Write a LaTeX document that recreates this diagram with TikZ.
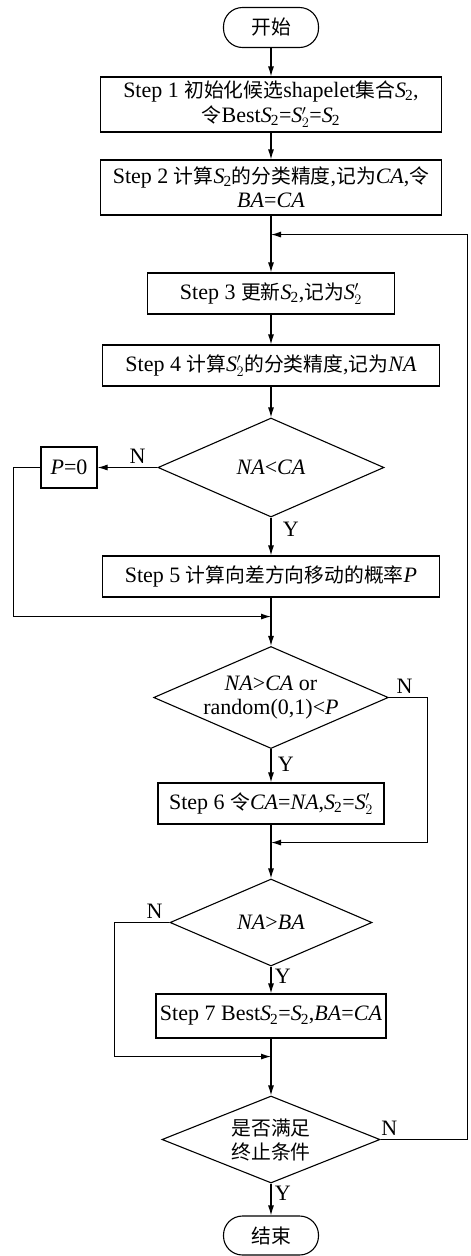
\documentclass[tikz,border=0pt]{standalone}
\usepackage{fontspec}
\setmainfont{Liberation Serif}
\newfontfamily\cjk{Noto Sans CJK SC}[Scale=0.9]
\usetikzlibrary{shapes.geometric, arrows.meta, positioning}
\newcommand{\vS}{\textit{S}\kern-1pt\textsubscript{2}}
\newcommand{\vSp}{\textit{S}\kern-0.5pt${}'_{2}$}
\tikzstyle{startstop} = [rectangle, rounded corners=19pt, minimum width=95pt, minimum height=40pt, text centered, draw=black]
\tikzstyle{process} = [rectangle, minimum height=41pt, inner sep=2pt, text centered, align=center, draw=black]
\tikzstyle{decision} = [diamond, aspect=2.3, inner sep=0pt, text centered, align=center, draw=black]
\tikzstyle{arrow} = [-{Latex[length=10pt,width=6pt]}]

\begin{document}
\begin{tikzpicture}[node distance=100pt, line width=1.1pt, font=\fontsize{22}{24}\selectfont]
\useasboundingbox (0,0) rectangle (471pt,-1256pt);

\node (start) [startstop] at (271pt,-27.5pt) {{\cjk 开始}};
\node (step1) [process, minimum width=341pt, minimum height=55pt, node distance=77pt, below of=start] {Step 1 {\cjk 初始化候选}shapelet{\cjk 集合}\vS,\\[1pt]{\cjk 令}Best\vS=\vSp=\vS};
\node (step2) [process, minimum width=341pt, minimum height=55pt, node distance=83pt, below of=step1] {Step 2 {\cjk 计算}\vS{\cjk 的分类精度},{\cjk 记为}\textit{CA},{\cjk 令}\\\textit{BA}=\textit{CA}};
\node (step3) [process, minimum width=247pt, node distance=106pt, below of=step2] {Step 3 {\cjk 更新}\vS,{\cjk 记为}\vSp};
\node (step4) [process, minimum width=337pt, node distance=72pt, below of=step3] {Step 4 {\cjk 计算}\vSp{\cjk 的分类精度},{\cjk 记为}\textit{NA}};
\node (dec1) [decision, minimum width=226pt, minimum height=99pt, node distance=102pt, below of=step4] {\textit{NA}<\textit{CA}};
\node (pzero) [process, minimum width=56pt, node distance=202pt, left of=dec1] {\textit{P}=0};
\node (step5) [process, minimum width=337pt, node distance=109pt, below of=dec1] {Step 5 {\cjk 计算向差方向移动的概率}\textit{P}};
\node (dec2) [decision, minimum width=226pt, minimum height=99pt, node distance=121pt, below of=step5] {\textit{NA}>\textit{CA} or\\random(0,1)<\textit{P}};
\node (step6) [process, minimum width=226pt, node distance=106pt, below of=dec2] {Step 6 {\cjk 令}\textit{CA}=\textit{NA},\vS=\vSp};
\node (dec3) [decision, minimum width=202pt, minimum height=87pt, node distance=119pt, below of=step6] {\textit{NA}>\textit{BA}};
\node (step7) [process, minimum width=230pt, minimum height=44pt, node distance=93.5pt, below of=dec3] {Step 7 Best\vS=\vS,\textit{BA}=\textit{CA}};
\node (dec4) [decision, minimum width=218pt, minimum height=87pt, node distance=123.5pt, below of=step7] {{\cjk 是否满足}\\{\cjk 终止条件}};
\node (end) [startstop, minimum height=39pt, node distance=96pt, below of=dec4] {{\cjk 结束}};

% join points on the main line
\coordinate (loopin) at ([yshift=-19pt]step2.south);
\coordinate (join5) at ([yshift=-19pt]step5.south);
\coordinate (join6) at ([yshift=-18pt]step6.south);
\coordinate (join7) at ([yshift=-18pt]step7.south);

\draw [arrow] (start) -- (step1);
\draw [arrow] (step1) -- (step2);
\draw [arrow] (step2) -- (step3);
\draw [arrow] (step3) -- (step4);
\draw [arrow] (step4) -- (dec1);
\draw [arrow] (dec1) -- node[right, pos=0.3, xshift=8pt] {Y} (step5);
\draw [arrow] (dec1.west) -- node[above, pos=0.33] {N} (pzero.east);
\draw [arrow] (pzero.west) -- ++(-27pt,0) |- (join5);
\draw [arrow] (step5) -- (dec2);
\draw [arrow] (dec2) -- node[right, pos=0.45, xshift=3pt] {Y} (step6);
\draw [arrow] (dec2.east) -- ++(39pt,0) node[above, pos=0.4] {N} |- (join6);
\draw [arrow] (step6) -- (dec3);
\draw [arrow] (dec3) -- node[right, pos=0.35] {Y} (step7);
\draw [arrow] (dec3.west) -- ++(-55pt,0) node[above, pos=0.27] {N} |- (join7);
\draw [arrow] (step7) -- (dec4);
\draw [arrow] (dec4) -- node[right, pos=0.3] {Y} (end);
\draw [arrow] (dec4.east) -- ++(87pt,0) node[above, pos=0.1] {N} |- (loopin);

\end{tikzpicture}
\end{document}
